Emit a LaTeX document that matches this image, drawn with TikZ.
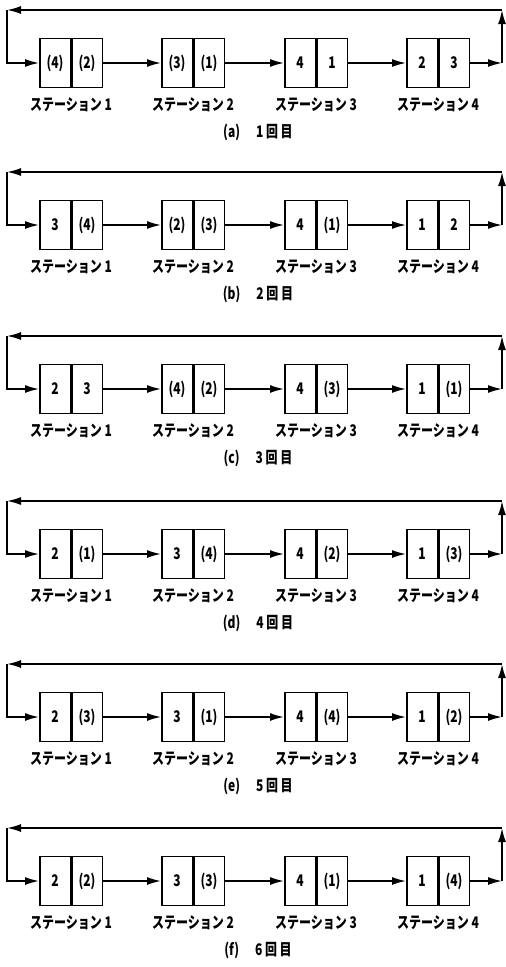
\documentclass[tikz,border=0pt]{standalone}
\usepackage{fontspec}
\usetikzlibrary{arrows.meta}
\newfontfamily\jpfont{Noto Sans CJK JP}[FakeStretch=0.75]
\begin{document}
\begin{tikzpicture}[x=1pt,y=-1pt,
		cell/.style={draw,line width=1.5pt,minimum width=30.5pt,minimum height=49pt,inner sep=0pt,font=\jpfont\bfseries\fontsize{16}{16}\selectfont},
		link/.style={line width=1.6pt,line join=miter,-{Latex[length=14pt,width=8pt]}},
		lbl/.style={inner sep=0pt,font=\jpfont\bfseries\fontsize{16}{16}\selectfont}]
	\useasboundingbox (0,0) rectangle (506,967);
	\foreach \t/\cap/\a/\b/\c/\d/\e/\f/\g/\h in {
			10/{(a)\quad 1\,回\,目}/(4)/(2)/(3)/(1)/4/1/2/3,
			172/{(b)\quad 2\,回\,目}/3/(4)/(2)/(3)/4/(1)/1/2,
			336/{(c)\quad 3\,回\,目}/2/3/(4)/(2)/4/(3)/1/(1),
			501/{(d)\quad 4\,回\,目}/2/(1)/3/(4)/4/(2)/1/(3),
			664/{(e)\quad 5\,回\,目}/2/(3)/3/(1)/4/(4)/1/(2),
			828/{(f)\quad 6\,回\,目}/2/(2)/3/(3)/4/(1)/1/(4)} {
		% stations
		\foreach \x/\l/\r/\s in {71/\a/\b/1, 193/\c/\d/2, 316/\e/\f/3, 438/\g/\h/4} {
			\node [cell,anchor=east] (l\s) at (\x,\t+53) {\l};
			\node [cell,anchor=west] (r\s) at (\x,\t+53) {\r};
			\node [lbl] (n\s) at (\x,\t+95) {ステーション\,\s};
		}
		\coordinate (tl) at (7,\t);
		\coordinate (tr) at (502,\t);
		\coordinate (br) at (502,\t+53);
		\coordinate (bl) at (7,\t+53);
		\draw [link] (r1) -- (l2);
		\draw [link] (r2) -- (l3);
		\draw [link] (r3) -- (l4);
		\draw [link] (r4) -- (br);
		\draw [link] (br) -- (tr);
		\draw [link] (tr) -- (tl);
		\draw [link] (tl) -- (bl) -- (l1);
		\node [lbl] (cap) at (258,\t+122) {\cap};
	}
\end{tikzpicture}
\end{document}
